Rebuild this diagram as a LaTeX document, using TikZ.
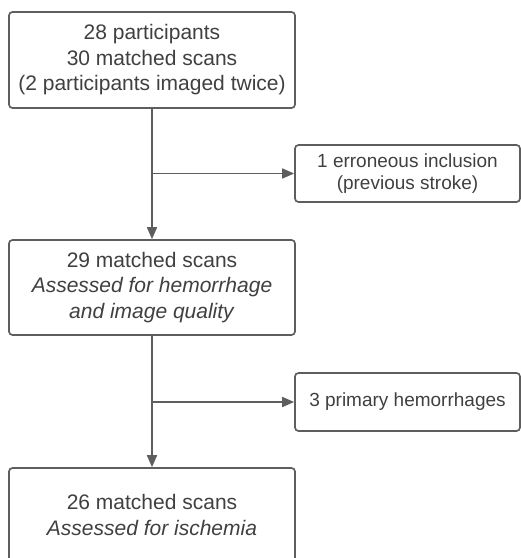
\documentclass[tikz,border=0pt]{standalone}
\usepackage{fontspec}
\setmainfont{Liberation Sans}
\usetikzlibrary{arrows.meta,calc}
\definecolor{linec}{HTML}{5E5E5E}
\definecolor{textc}{HTML}{404040}
\begin{document}
\begin{tikzpicture}[x=1pt,y=-1pt,
  box/.style={draw=linec,line width=1.7pt,rounded corners=3.5pt,fill=white,
    align=center,text=textc,font=\fontsize{21}{25.5}\selectfont,inner sep=0pt},
  sidebox/.style={box,font=\fontsize{19}{22.5}\selectfont},
  conn/.style={draw=linec,line width=1.7pt,-{Triangle[length=12pt,width=10pt]}}]
\useasboundingbox (0,0) rectangle (521,558);
\fill[white] (0,0) rectangle (521,558);
\clip (0,0) rectangle (521,558);
\node[box,minimum width=286pt,minimum height=96pt] (b1) at (152,60)
  {28 participants\\30 matched scans\\(2 participants imaged twice)};
\node[box,minimum width=286pt,minimum height=95pt] (b2) at (152,287.5)
  {29 matched scans\\\textit{Assessed for hemorrhage}\\\textit{and image quality}};
\node[box,minimum width=286pt,minimum height=94pt] (b3) at (152,515)
  {26 matched scans\\\textit{Assessed for ischemia}};
\node[sidebox,minimum width=225pt,minimum height=57pt] (s1) at (407.5,173.5)
  {1 erroneous inclusion\\(previous stroke)};
\node[sidebox,minimum width=225pt,minimum height=58pt] (s2) at (407.5,402)
  {3 primary hemorrhages};
\coordinate (j1) at (b1.south |- s1.west);
\coordinate (j2) at (b2.south |- s2.west);
\draw[conn] (b1.south) -- (b2.north);
\draw[conn] (b2.south) -- (b3.north);
\draw[conn] (j1) -- (s1.west);
\draw[conn] (j2) -- (s2.west);
\end{tikzpicture}
\end{document}
